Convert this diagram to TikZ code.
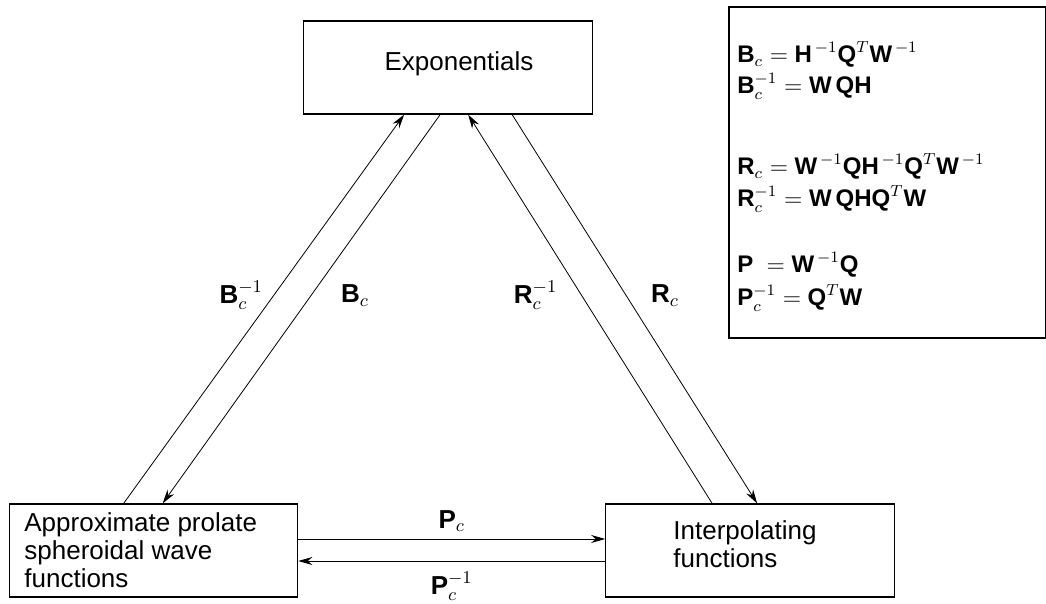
\documentclass[tikz,border=0pt]{standalone}
\usepackage[no-math]{fontspec}
\setmainfont{Liberation Sans}
\usetikzlibrary{arrows.meta,calc}
\newcommand{\bsf}[1]{\mbox{\bfseries #1}}
\tikzset{
  box/.style={draw, line width=0.6pt, minimum width=144.25pt, minimum height=46.5pt, inner sep=0pt},
  boxtext/.style={font=\fontsize{13}{14}\selectfont, align=left, inner sep=0pt},
  lab/.style={font=\fontsize{13}{15}\selectfont, inner sep=0pt},
  legtext/.style={font=\fontsize{12}{14}\selectfont, inner sep=0pt, anchor=base west},
  arr/.style={-{Stealth[length=7pt,width=4pt]}, line width=0.4pt},
}

\begin{document}
\begin{tikzpicture}[x=0.5pt,y=-0.5pt]
  \useasboundingbox (0,0) rectangle (1046,604);

  \node[box] (expo) at (448,67.5) {};
  \node[box] (apsw) at (153.5,550.5) {};
  \node[box] (interp) at (750,550.5) {};
  \node[boxtext, anchor=base] (expotxt) at (459,71) {Exponentials};
  \node[boxtext, anchor=west] (apswtxt) at (24,550) {Approximate prolate\\spheroidal wave\\functions};
  \node[boxtext, anchor=west] (interptxt) at (673,544) {Interpolating\\functions};

  \node[draw, line width=0.6pt, minimum width=158.25pt, minimum height=165.5pt] (legend) at (887.25,172.5) {};
  \node[legtext] (l1) at (737,63) {$\bsf{B}_c = \bsf{H}^{\,-1}\bsf{Q}^T\bsf{W}^{\,-1}$};
  \node[legtext] (l2) at (737,94) {$\bsf{B}_c^{-1} = \bsf{W}\,\bsf{Q}\bsf{H}$};
  \node[legtext] (l3) at (737,175) {$\bsf{R}_c = \bsf{W}^{\,-1}\bsf{Q}\bsf{H}^{\,-1}\bsf{Q}^T\bsf{W}^{\,-1}$};
  \node[legtext] (l4) at (737,207) {$\bsf{R}_c^{-1} = \bsf{W}\,\bsf{Q}\bsf{H}\bsf{Q}^T\bsf{W}$};
  \node[legtext] (l5) at (737,273) {$\bsf{P}\; = \bsf{W}^{\,-1}\bsf{Q}$};
  \node[legtext] (l6) at (737,306) {$\bsf{P}_c^{-1} = \bsf{Q}^T\bsf{W}$};

  % connector ends on the box borders
  \coordinate (bi0) at ($(apsw.north west)+(115,0)$);
  \coordinate (bi1) at ($(expo.south west)+(101,0)$);
  \coordinate (b0) at ($(expo.south west)+(137,0)$);
  \coordinate (b1) at ($(apsw.north west)+(154,0)$);
  \coordinate (ri0) at ($(interp.north west)+(107,0)$);
  \coordinate (ri1) at ($(expo.south west)+(165,0)$);
  \coordinate (r0) at ($(expo.south west)+(209,0)$);
  \coordinate (r1) at ($(interp.north west)+(152,0)$);
  \coordinate (p0) at ($(apsw.east)+(0,-11.5)$);
  \coordinate (p1) at ($(interp.west)+(0,-11.5)$);
  \coordinate (q0) at ($(interp.west)+(0,10.5)$);
  \coordinate (q1) at ($(apsw.east)+(0,10.5)$);

  \path[every node/.style={lab}]
  (bi0) edge[arr] node[pos=.535, xshift=-16.25pt] {$\bsf{B}_c^{-1}$} (bi1)
  (b0) edge[arr] node[pos=.465, xshift=22pt] {$\bsf{B}_c$} (b1)
  (ri0) edge[arr] node[pos=.535, xshift=-23pt] {$\bsf{R}_c^{-1}$} (ri1)
  (r0) edge[arr] node[pos=.465, xshift=19.5pt] {$\bsf{R}_c$} (r1)
  (p0) edge[arr] node[midway, yshift=9pt] {$\bsf{P}_c$} (p1)
  (q0) edge[arr] node[midway, yshift=-12.5pt] {$\bsf{P}_c^{-1}$} (q1);
\end{tikzpicture}
\end{document}
